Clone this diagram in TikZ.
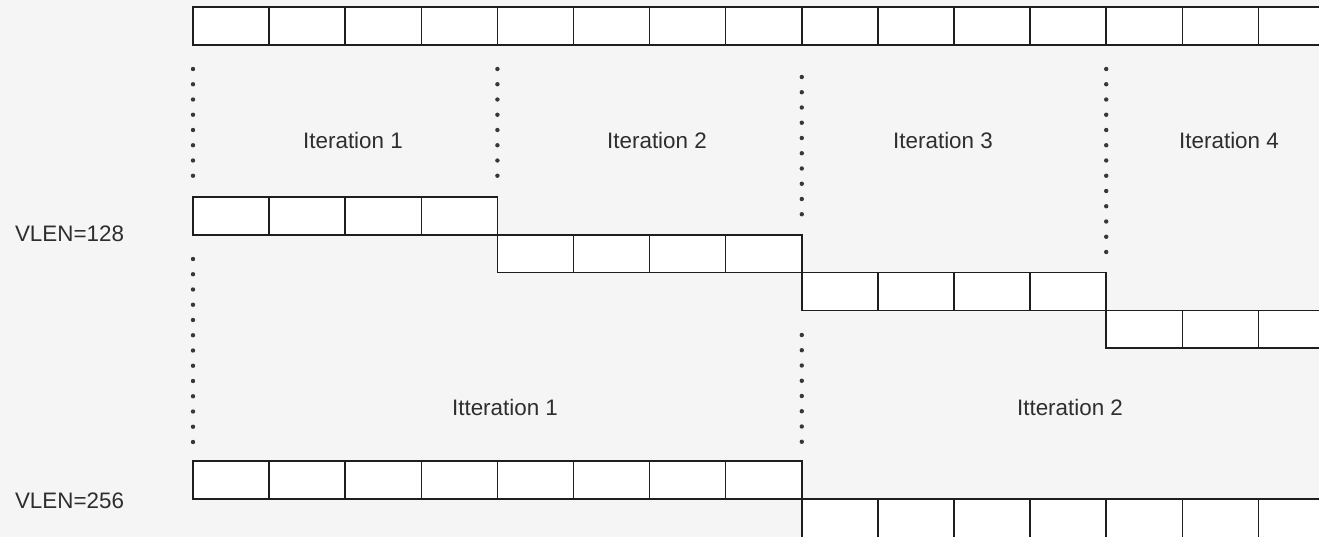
\documentclass[tikz,border=0pt]{standalone}
\usepackage{fontspec}
\setmainfont{Liberation Sans}
\definecolor{bgc}{HTML}{F5F5F5}
\definecolor{txtc}{HTML}{2E2E2E}
\definecolor{linec}{HTML}{1E1E1E}
\definecolor{dotc}{HTML}{383838}
\begin{document}
\begin{tikzpicture}[x=1pt, y=-1pt,
  cell/.style={draw=linec, fill=white, line width=1.5pt, anchor=north west,
    minimum width=76.1pt, minimum height=37.8pt, inner sep=0pt, outer sep=0pt},
  opencell/.style={cell, minimum height=60pt},
  dotmark/.style={fill=dotc, draw=none},
  lbl/.style={text=txtc, font=\fontsize{22.4}{26}\selectfont, inner sep=0pt}]
  % canvas
  \fill[bgc] (0,0) rectangle (1319,537);
  \useasboundingbox (0,0) rectangle (1319,537);
  \clip (0,0) rectangle (1319,537);
  % full register row
  \foreach \i in {0,...,15}
    \node[cell] (top\i) at ({193+76.1*\i}, 7) {};
  % VLEN=128: four elements per iteration, one step down each time
  \foreach \i in {0,...,3} {
    \node[cell] (a\i) at ({193+76.1*\i}, 197) {};
    \node[cell] (b\i) at ({497.4+76.1*\i}, 234.8) {};
    \node[cell] (c\i) at ({801.8+76.1*\i}, 272.6) {};
  }
  \foreach \i in {0,...,2}
    \node[cell] (d\i) at ({1106.2+76.1*\i}, 310.4) {};
  % VLEN=256: eight elements per iteration
  \foreach \i in {0,...,7}
    \node[cell] (e\i) at ({193+76.1*\i}, 461) {};
  \foreach \i in {0,...,6}
    \node[opencell] (f\i) at ({801.8+76.1*\i}, 498.8) {};
  % iteration boundaries: x, first dot, number of dots
  \foreach \x/\y/\n in {193/69/8, 497.4/69/8, 801.8/77/10, 1106.2/69/13,
                        193/259/13, 801.8/335/8} {
    \pgfmathtruncatemacro{\last}{\n-1}
    \foreach \k in {0,...,\last}
      \fill[dotmark] (\x, {\y+15.25*\k}) circle (2.2);
  }
  % labels
  \node[lbl] (it1) at (353,140) {Iteration 1};
  \node[lbl] (it2) at (657,140) {Iteration 2};
  \node[lbl] (it3) at (943,140) {Iteration 3};
  \node[lbl] (it4) at (1229,140) {Iteration 4};
  \node[lbl] (itt1) at (505,407) {Itteration 1};
  \node[lbl] (itt2) at (1070,407) {Itteration 2};
  \node[lbl] (v128) at (69.5,234) {VLEN=128};
  \node[lbl] (v256) at (69.5,501) {VLEN=256};
\end{tikzpicture}
\end{document}
